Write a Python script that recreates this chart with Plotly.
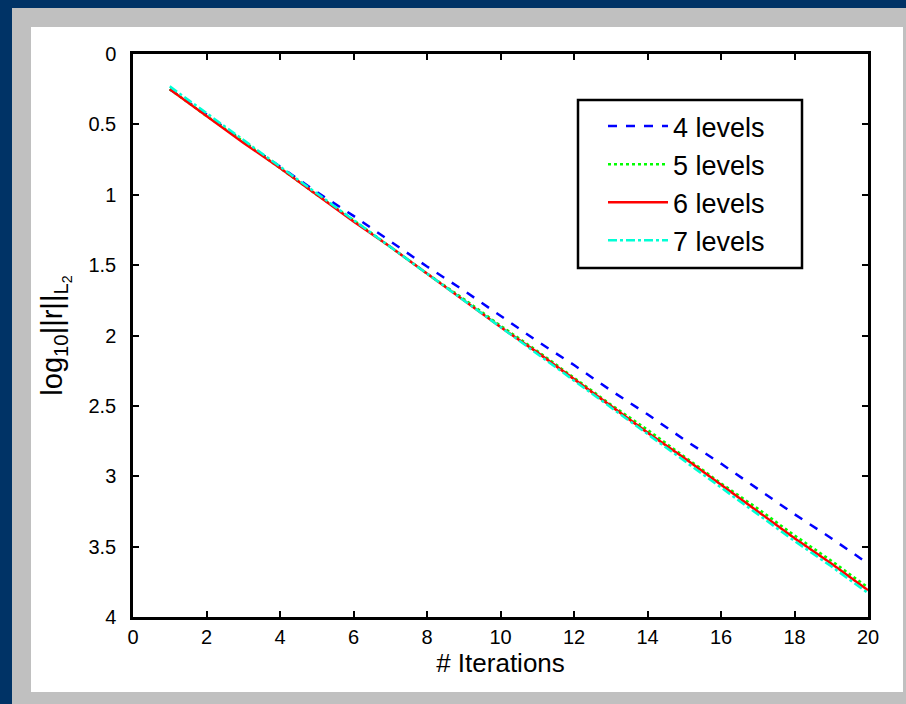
import plotly.graph_objects as go

iterations = list(range(1, 21))
levels4 = [0.25, 0.43, 0.62, 0.80, 0.98, 1.15, 1.33, 1.51, 1.68, 1.86,
           2.04, 2.21, 2.39, 2.56, 2.74, 2.91, 3.09, 3.27, 3.44, 3.62]
levels5 = [0.25, 0.44, 0.62, 0.81, 1.00, 1.18, 1.37, 1.56, 1.74, 1.93,
           2.11, 2.30, 2.49, 2.67, 2.86, 3.05, 3.23, 3.42, 3.60, 3.79]
levels6 = [0.25, 0.44, 0.63, 0.81, 1.00, 1.19, 1.37, 1.56, 1.75, 1.94,
           2.12, 2.31, 2.50, 2.69, 2.87, 3.06, 3.25, 3.44, 3.62, 3.81]
levels7 = [0.23, 0.42, 0.61, 0.80, 0.99, 1.18, 1.37, 1.56, 1.75, 1.94,
           2.13, 2.32, 2.51, 2.70, 2.89, 3.08, 3.27, 3.46, 3.64, 3.83]
series_names = ["4 levels", "5 levels", "6 levels", "7 levels"]
x_ticks = list(range(0, 21, 2))
y_ticks = [0, 0.5, 1, 1.5, 2, 2.5, 3, 3.5, 4]
y_ticktext = ["0", "0.5", "1", "1.5", "2", "2.5", "3", "3.5", "4"]

W, H = 906, 704
L, R, T, B = 133, 868, 54, 617
ML, MR, MT, MB = L, W - R, T, H - B
pw, ph = R - L, B - T

def fx(px):
    return (px - L) / pw

def fy(py):
    return (B - py) / ph

fig = go.Figure()
styles = [("#0000ff", "dash"), ("#00ff00", "dot"), ("#ff0000", "solid"), ("#00ffd5", "dashdot")]
for name, ys, (col, dash) in zip(series_names, [levels4, levels5, levels6, levels7], styles):
    fig.add_trace(go.Scatter(x=iterations, y=ys, mode="lines", name=name,
                             legendgroup=name,
                             line=dict(color=col, dash=dash, width=2.5)))

font_family = "Liberation Sans, Arial, Helvetica, sans-serif"
shapes = [
    dict(type="rect", xref="paper", yref="paper", layer="below",
         x0=fx(12), x1=fx(W + 5), y0=fy(H + 5), y1=fy(8),
         fillcolor="#c0c0c0", line=dict(width=0)),
    dict(type="rect", xref="paper", yref="paper", layer="below",
         x0=fx(31), x1=fx(903), y0=fy(692), y1=fy(27),
         fillcolor="#ffffff", line=dict(width=0)),
    # legend frame
    dict(type="rect", xref="paper", yref="paper", layer="below",
         x0=fx(578), x1=fx(802), y0=fy(268), y1=fy(100),
         fillcolor="#ffffff", line=dict(color="black", width=2.5)),
]

fig.update_layout(
    width=W, height=H,
    margin=dict(l=ML, r=MR, t=MT, b=MB, pad=0),
    paper_bgcolor="#003366",
    plot_bgcolor="rgba(0,0,0,0)",
    font=dict(family=font_family, color="black", size=20),
    shapes=shapes,
    showlegend=True,
    legend=dict(x=fx(603), y=fy(102), xanchor="left", yanchor="top",
                bgcolor="rgba(0,0,0,0)", borderwidth=0,
                font=dict(size=27, family=font_family),
                tracegroupgap=0, itemwidth=60),
    xaxis=dict(range=[0, 20], tickvals=x_ticks, ticks="inside", ticklen=6,
               tickwidth=2, tickcolor="black", showline=True, linecolor="black",
               linewidth=2.5, mirror="ticks", showgrid=False, zeroline=False,
               tickfont=dict(size=20), ticklabelstandoff=0,
               title=dict(text="# Iterations", font=dict(size=26), standoff=2)),
    yaxis=dict(range=[4, 0], tickvals=y_ticks, ticktext=y_ticktext,
               ticks="inside", ticklen=6,
               tickwidth=2, tickcolor="black", showline=True, linecolor="black",
               linewidth=2.5, mirror="ticks", showgrid=False, zeroline=False,
               tickfont=dict(size=20), ticklabelstandoff=10,
               title=dict(text="log<sub>10</sub>||r||<sub>L<sub>2</sub></sub>",
                          font=dict(size=29), standoff=18)),
)

fig.write_html("out.html", config={"displayModeBar": False},
               post_script="document.body.style.margin='0';document.body.style.background='#003366';")
